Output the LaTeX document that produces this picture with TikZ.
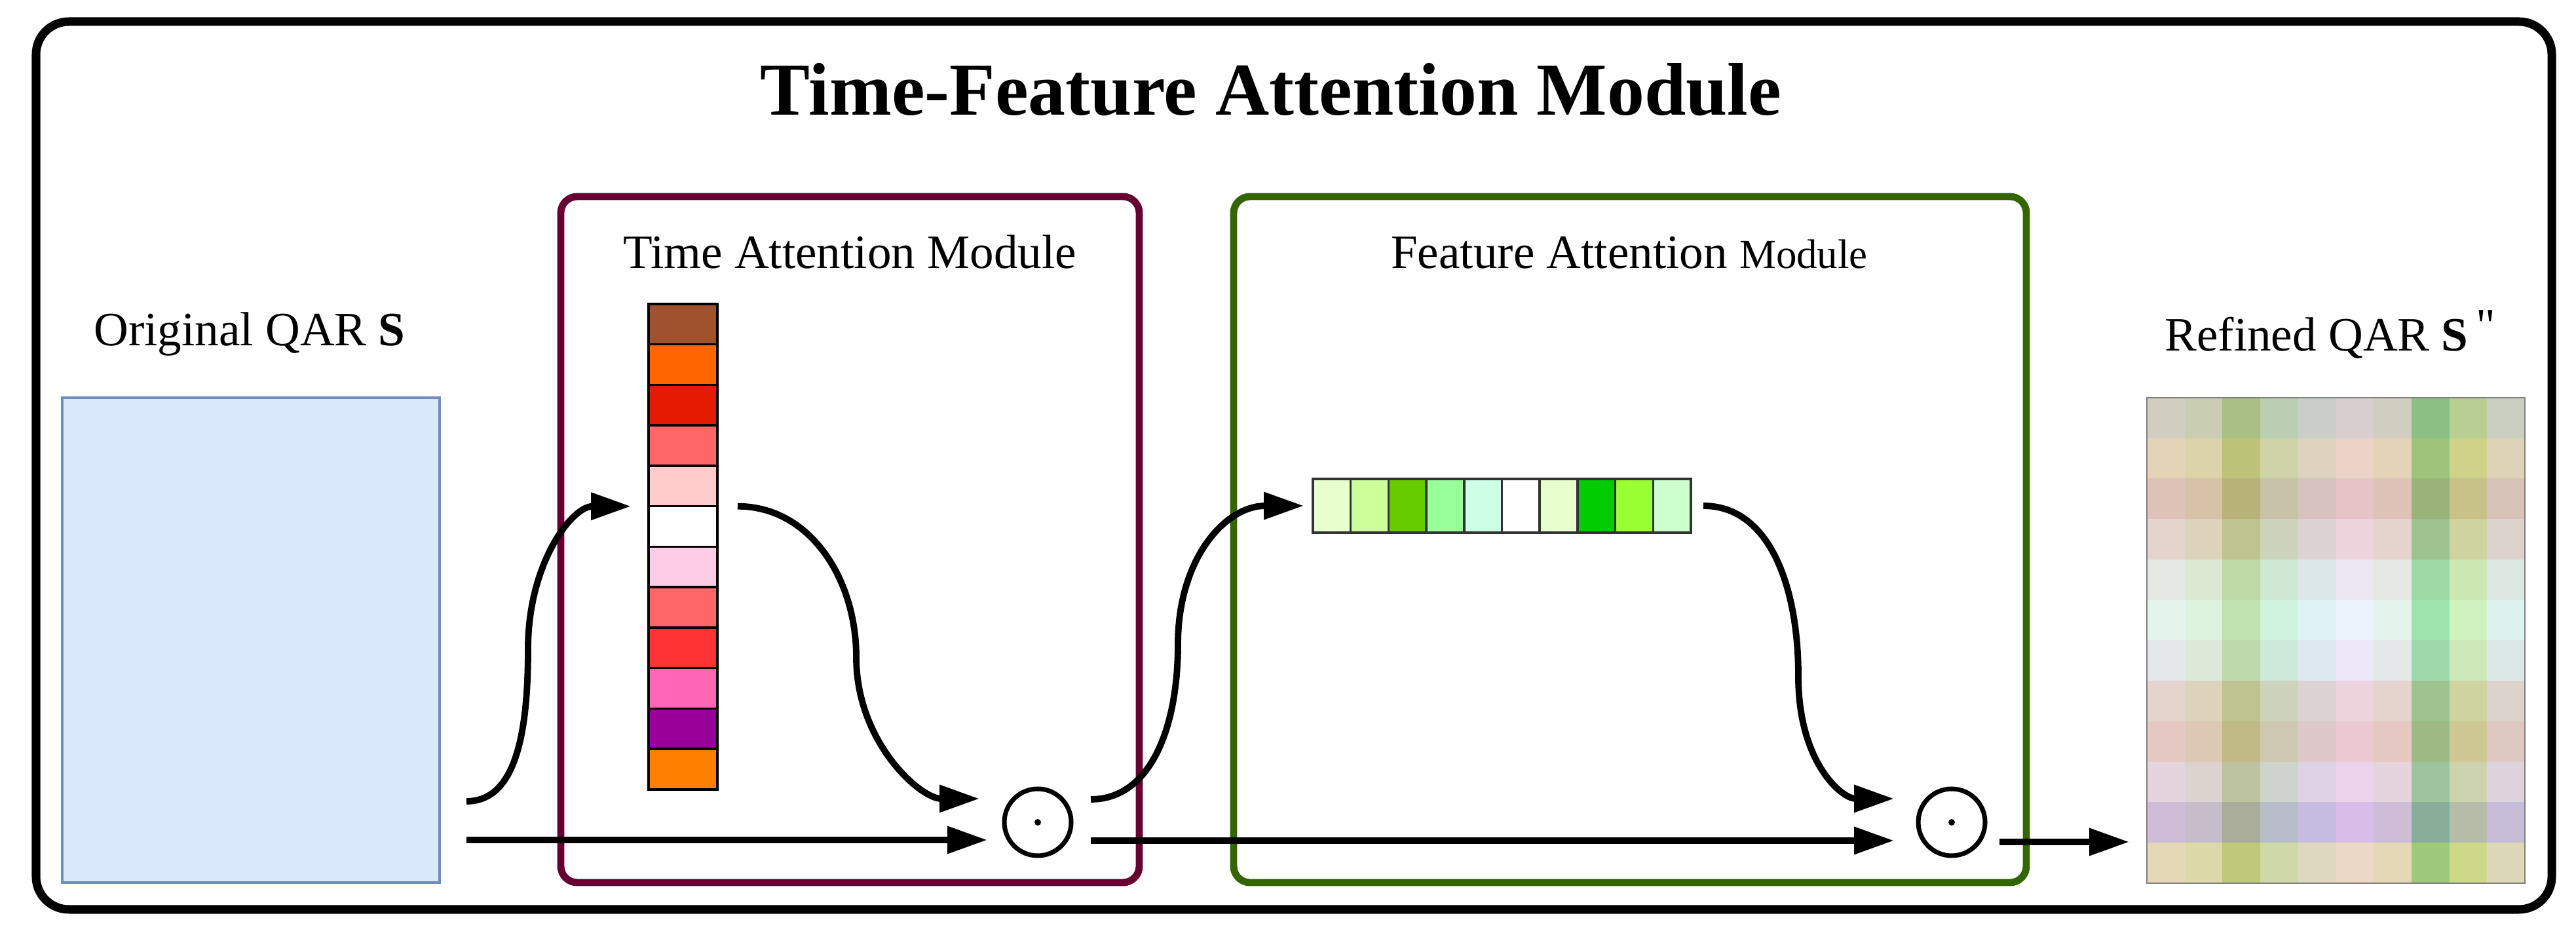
\documentclass[tikz,border=0pt]{standalone}
\usepackage{fontspec}
\setmainfont{Liberation Serif}
\usetikzlibrary{arrows.meta}

\definecolor{maroonbox}{HTML}{660033}
\definecolor{greenbox}{HTML}{336600}
\definecolor{qarblue}{HTML}{DAE8FC}
\definecolor{qarline}{HTML}{6C8EBF}
% time weights, top to bottom
\definecolor{tw1}{HTML}{A0522D}
\definecolor{tw2}{HTML}{FF6600}
\definecolor{tw3}{HTML}{E51A00}
\definecolor{tw4}{HTML}{FF6666}
\definecolor{tw5}{HTML}{FFCCCC}
\definecolor{tw6}{HTML}{FFFFFF}
\definecolor{tw7}{HTML}{FFCCE6}
\definecolor{tw8}{HTML}{FF6666}
\definecolor{tw9}{HTML}{FF3333}
\definecolor{tw10}{HTML}{FF66B3}
\definecolor{tw11}{HTML}{990099}
\definecolor{tw12}{HTML}{FF8000}
% feature weights, left to right
\definecolor{fw1}{HTML}{E6FFCC}
\definecolor{fw2}{HTML}{CCFF99}
\definecolor{fw3}{HTML}{66CC00}
\definecolor{fw4}{HTML}{99FF99}
\definecolor{fw5}{HTML}{CCFFE6}
\definecolor{fw6}{HTML}{FFFFFF}
\definecolor{fw7}{HTML}{E6FFCC}
\definecolor{fw8}{HTML}{00CC00}
\definecolor{fw9}{HTML}{99FF33}
\definecolor{fw10}{HTML}{CCFFCC}

\begin{document}
\begin{tikzpicture}[
  lbl/.style = {font=\fontsize{20.8}{25}\selectfont, anchor=base},
  tcell/.style = {draw, line width=1pt, inner sep=0, outer sep=0, minimum width=1.05cm, minimum height=0.6175cm},
  fcell/.style = {draw=black!80, line width=1pt, inner sep=0, outer sep=0, minimum width=0.577cm, minimum height=0.82cm},
  dotop/.style = {circle, draw, line width=2pt, inner sep=0, outer sep=0, minimum size=1.02cm},
  flow/.style = {-{Triangle[length=0.61cm, width=0.40cm]}, line width=2.8pt}
]
\useasboundingbox (0,0) rectangle (39.32,14.23);

\draw[line width=3.7pt, rounded corners=0.5cm] (0.55,0.35) rectangle (38.95,13.90);
\node[font=\fontsize{32.4}{38}\selectfont\bfseries, anchor=base] (title) at (19.40,12.47) {Time-Feature Attention Module};

\draw[maroonbox, line width=3.1pt, rounded corners=0.25cm] (8.56,0.76) rectangle (17.39,11.23);
\draw[greenbox, line width=3.1pt, rounded corners=0.25cm] (18.83,0.76) rectangle (30.93,11.23);
\node[lbl] (tlbl) at (12.97,10.13) {Time Attention Module};
\node[lbl] (flbl) at (24.87,10.13) {Feature Attention {\fontsize{17.9}{21}\selectfont Module}};

% input
\node[lbl] (origlbl) at (3.81,8.95) {Original QAR \textbf{S}};
\node[draw=qarline, fill=qarblue, line width=1pt, inner sep=0, outer sep=0, minimum width=5.76cm, minimum height=7.40cm] (orig) at (3.83,4.46) {};

% attention weights
\foreach \i in {1,...,12}
  \node[tcell, fill=tw\i] (t\i) at (10.425, {9.59-(\i-0.5)*0.6175}) {};
\foreach \j in {1,...,10}
  \node[fcell, fill=fw\j] (f\j) at ({20.04+(\j-0.5)*0.577}, 6.51) {};

\node[dotop] (c1) at (15.84,1.68) {};
\node[dotop] (c2) at (29.79,1.68) {};
\fill (c1) circle (0.05);
\fill (c2) circle (0.05);

% output
\node[lbl] (reflbl) at (35.57,8.87) {Refined QAR \textbf{S}\,\raisebox{0.2em}{\textquotedbl}};
\fill[qarblue] (32.77,0.75) rectangle (38.54,8.16);
\foreach \i in {1,...,12}
  \fill[fill=tw\i, fill opacity=0.3] (32.77, {8.16-\i*0.6175}) rectangle (38.54, {8.16-(\i-1)*0.6175});
\foreach \j in {1,...,10}
  \fill[fill=fw\j, fill opacity=0.3] ({32.77+(\j-1)*0.577}, 0.75) rectangle ({32.77+\j*0.577}, 8.16);
\node[draw=gray, line width=0.8pt, inner sep=0, outer sep=0, minimum width=5.77cm, minimum height=7.41cm] (refined) at (35.655,4.455) {};

\draw[flow] ([shift={(4.1mm,12.4mm)}]orig.south east)
  .. controls +(0.75,0) and +(0,-1.3) .. (8.06,4.33)
  .. controls +(0,1.3) and +(-0.9,0) .. ([xshift=-2.7mm]t5.south west);
\draw[flow] ([shift={(4.1mm,6.5mm)}]orig.south east) -- ([shift={(-2.6mm,-2.7mm)}]c1.west);
\draw[flow] ([xshift=3.1mm]t5.south east)
  .. controls +(1.1,0) and +(0,1.2) .. (13.07,4.2)
  .. controls +(0,-1.3) and +(-0.9,0) .. ([shift={(-3.8mm,3.6mm)}]c1.west);
\draw[flow] ([shift={(3.0mm,3.5mm)}]c1.east)
  .. controls +(0.9,0) and +(0,-1.3) .. (17.98,4.4)
  .. controls +(0,1.3) and +(-1.2,0) .. ([xshift=-1.4mm]f1.west);
\draw[flow] ([shift={(3.0mm,-2.8mm)}]c1.east) -- ([shift={(-3.7mm,-2.8mm)}]c2.west);
\draw[flow] ([xshift=1.9mm]f10.east)
  .. controls +(1.0,0) and +(0,1.4) .. (27.45,3.9)
  .. controls +(0,-1.3) and +(-0.8,0) .. ([shift={(-3.7mm,3.6mm)}]c2.west);
\draw[flow] ([shift={(2.2mm,-3.0mm)}]c2.east) -- ([shift={(-2.7mm,6.3mm)}]refined.south west);
\end{tikzpicture}
\end{document}
